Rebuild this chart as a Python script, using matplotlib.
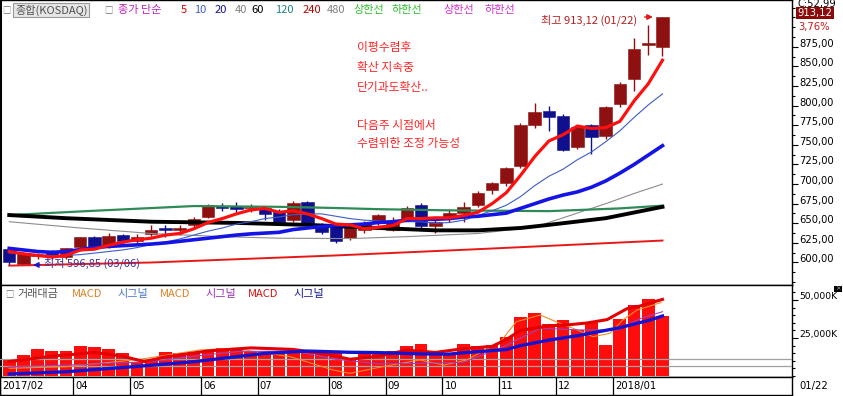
import numpy as np
import matplotlib
matplotlib.use("Agg")
import matplotlib.pyplot as plt
import matplotlib.transforms as mtransforms
from matplotlib import font_manager
from matplotlib.ticker import MultipleLocator

plt.rcParams['font.family'] = ['Noto Sans CJK KR', 'DejaVu Sans']

# narrow font for the numbers, if it is there
try:
    font_manager.findfont('Liberation Sans Narrow', fallback_to_default=False)
    NUM = dict(family=['Liberation Sans Narrow', 'DejaVu Sans'], fontsize=9.5)
except ValueError:
    NUM = dict(family=['DejaVu Sans'], fontsize=7.2)
NUM_S = dict(NUM, fontsize=NUM['fontsize'] - 0.5)

# KOSDAQ weekly candles 2017/02/27 ~ 2018/01/22
opens  = [617, 598, 608, 614, 607, 620, 632, 621, 635, 627, 636, 644, 641, 648, 658, 672, 672, 669, 670, 666,
          654, 677, 648, 645, 631, 641, 650, 642, 655, 673, 647, 657, 663, 673, 692, 702, 723, 775, 793, 787,
          747, 775, 761, 802, 834, 877, 875]
highs  = [619, 613, 612, 616, 619, 633, 634, 638, 636, 636, 648, 648, 648, 658, 674, 676, 677, 675, 672, 668,
          678, 679, 650, 647, 647, 653, 662, 658, 672, 676, 658, 668, 677, 691, 703, 722, 778, 803, 800, 789,
          776, 777, 800, 830, 886, 903, 913.12]
lows   = [597, 596.85, 605, 604, 605, 619, 618, 619, 624, 625, 634, 633, 635, 645, 657, 666, 664, 664, 654, 650,
          652, 649, 636, 625, 629, 638, 648, 640, 653, 644, 638, 652, 652, 671, 688, 698, 721, 772, 768, 742,
          745, 738, 758, 798, 819, 865, 863]
closes = [600, 611, 610, 607, 618, 632, 620, 634, 627, 633, 642, 641, 643.5, 656, 673, 669, 668, 671, 662, 652,
          676, 651, 639, 627, 645, 651, 661, 653, 670, 646, 652, 663, 671, 689, 701, 720, 775, 792, 786, 743,
          773, 760, 798, 828, 872, 880, 913.12]

# moving averages
ma5  = [614, 611, 609, 607, 609, 616, 617, 622, 626, 629, 631, 635, 637, 643, 651, 656, 662, 667, 669, 664,
        666, 662, 656, 649, 648, 643, 645, 647, 656, 656, 657, 657, 660, 664, 675, 689, 711, 735, 755, 763,
        774, 771, 772, 780, 806, 828, 858]
ma10 = [612, 611, 610, 609, 609, 610, 612, 614, 616, 619, 623, 626, 630, 635, 640, 644, 649, 652, 656, 658,
        661, 662, 662, 659, 656, 654, 653, 652, 652, 652, 650, 651, 654, 660, 666, 673, 684, 698, 710, 719,
        731, 741, 754, 768, 785, 801, 815]
ma20 = [618, 616, 614, 613, 614, 616.5, 619, 620.5, 621.5, 622.5, 623.5, 625, 627, 629, 631, 633, 635, 636.5,
        637.5, 638.5, 642, 644, 646, 647, 648, 649, 651, 652, 654, 655, 655, 656, 658, 659, 661, 663, 669, 675,
        681, 686, 690, 696, 704, 714, 725, 737, 749]
ma40_x = [0, 5, 10, 15, 19, 24, 28, 33, 37, 40, 42, 44, 46]
ma40_y = [652, 644, 637, 633, 631, 630.5, 633, 637, 645, 663, 675, 688, 700]
ma60_x = [0, 4, 10, 16, 21, 26, 30, 33, 36, 38, 42, 46]
ma60_y = [660.5, 656.5, 652, 650.5, 648, 644, 641, 641, 644, 648, 656.5, 671]
ma120_x = [0, 6, 13, 19, 23, 26, 31, 38, 43, 46]
ma120_y = [660.5, 666, 672, 671, 669.5, 668, 666.5, 665.5, 669, 672.5]
ma240_x = [0, 10, 23, 33, 46]
ma240_y = [596, 600, 609, 617, 628]

# 거래대금 (K) and its indicator lines
amount = [10900, 13800, 17700, 16400, 16400, 19700, 19000, 17700, 15100, 9000, 10900, 15800, 15100, 15800,
          16400, 18200, 17100, 15800, 16400, 14900, 17100, 17100, 14400, 14900, 10900, 14200, 14200, 16400,
          19800, 21000, 16400, 14400, 21000, 19700, 20400, 25400, 38600, 41600, 34200, 36800, 30200, 35100,
          20400, 37200, 46700, 50600, 39700]
sig_x = [0, 4, 5, 9, 13, 16, 18, 21, 24, 26, 29, 31, 32, 35, 36, 38, 40, 43, 45, 46]
sig_y = [1300, 2800, 3500, 6300, 9400, 12700, 14900, 16400, 15600, 15400, 14500, 14400, 15300, 17400, 20000,
         23600, 26500, 31800, 36500, 39500]
macd_x = [0, 3, 6, 8, 9.5, 11, 14, 17, 20, 22.5, 24, 26, 28, 30, 32, 34, 35, 36, 38, 39.5, 40.7, 42.1, 43.5,
          44.4, 46]
macd_y = [9500, 13000, 15500, 13000, 9500, 12500, 16500, 18500, 17500, 14000, 11000, 13000, 17000, 15500,
          18000, 19500, 24000, 30000, 33000, 33800, 34900, 37100, 44300, 46000, 50400]
macd2_x = [0, 4, 9.2, 13.4, 15.8, 19.8, 22.8, 24, 26.3, 28.9, 30.6, 32.2, 34.6, 35.7, 37.4, 38.5, 40, 41.1,
           42.3, 43.2, 44.2, 45.9]
macd2_y = [5060, 6140, 10960, 17100, 18200, 12700, 3950, 1750, 6140, 10530, 7240, 10500, 22570, 35700, 40130,
           35700, 30260, 25860, 28100, 36800, 43400, 48300]
sig2_x = [0, 5, 10, 13, 16, 20, 23, 26, 29, 32, 34.8, 37.4, 40.2, 42.8, 44.5, 46]
sig2_y = [6000, 7500, 9500, 13000, 16000, 16500, 11000, 8000, 8350, 9000, 19300, 31400, 30300, 30300, 38000,
          42300]
base_levels = [11000, 6600]

month_pos = [-0.65, 4.5, 8.5, 13.5, 17.5, 22.5, 26.5, 30.5, 34.5, 38.5, 42.5]
month_lab = ['2017/02', '04', '05', '06', '07', '08', '09', '10', '11', '12', '2018/01']

W, H = 843, 396
fig = plt.figure(figsize=(W / 100, H / 100), dpi=100)


def box(x0, y0, x1, y1):
    return fig.add_axes([x0 / W, 1 - y1 / H, (x1 - x0) / W, (y1 - y0) / H])


def ftext(x, y, s, **kw):
    fig.text(x / W, 1 - y / H, s, va='center', **kw)


ax = box(0, 0, 792, 285)
ax2 = box(0, 285, 792, 377)
ax3 = box(0, 377, 792, 395)

x = np.arange(len(closes))
o, h, l, c = map(np.array, (opens, highs, lows, closes))
col = np.where(c >= o, '#8e1010', '#10108e')
ax.vlines(x, l, h, colors=col, lw=1, zorder=2)
ax.bar(x, np.maximum(np.abs(c - o), 0.9), bottom=np.minimum(o, c), width=0.88,
       color=col, edgecolor=col, lw=0.4, zorder=2)

ax.plot(ma240_x, ma240_y, color='#e81818', lw=1.4, zorder=3)
ax.plot(ma40_x, ma40_y, color='#8c8c8c', lw=0.8, zorder=3)
ax.plot(ma120_x, ma120_y, color='#2e8b57', lw=1.6, zorder=3)
ax.plot(ma60_x, ma60_y, color='black', lw=2.8, zorder=3)
ax.plot(x, ma10, color='#3c5cc8', lw=0.8, zorder=3)
ax.plot(x, ma20, color='#1414e6', lw=2.6, zorder=3)
ax.plot(x, ma5, color='#ff1010', lw=2.3, zorder=3)

for a in (ax, ax2, ax3):
    a.set_xlim(-0.65, 55.12)
    a.set_xticks([])
ax.set_ylim(571.3, 934.8)
ax2.set_ylim(-658, 59868)
ax3.set_ylim(0, 1)

up4 = mtransforms.ScaledTranslation(0, 0.04, fig.dpi_scale_trans)

ax.yaxis.tick_right()
ax.set_yticks(np.arange(600, 876, 25))
ax.set_yticklabels([f'{v:.2f}'.replace('.', ',') for v in np.arange(600, 876, 25)], **NUM)
ax.yaxis.set_minor_locator(MultipleLocator(12.5))
ax.tick_params(axis='y', which='both', direction='out', length=4, width=0.8, pad=1.5)
ax.tick_params(axis='y', which='minor', length=2.5)
for lb in ax.get_yticklabels():
    lb.set_transform(lb.get_transform() + up4)

# 거래대금 panel
ax2.bar(x, amount, width=0.9, color='#ff0c0c', edgecolor='none', zorder=2)
for v in base_levels:
    ax2.axhline(v, color='#a0a0a0', lw=0.9, zorder=3)
ax2.plot(macd2_x, macd2_y, color='#f08c28', lw=0.8, zorder=4)
ax2.plot(sig2_x, sig2_y, color='#a040c0', lw=0.8, zorder=4)
ax2.plot(macd_x, macd_y, color='#e40000', lw=2.2, zorder=4)
ax2.plot(sig_x, sig_y, color='#1414d0', lw=2.4, zorder=5)
ax2.yaxis.tick_right()
ax2.set_yticks([25000, 50000])
ax2.set_yticklabels(['25,000K', '50,000K'], **NUM_S)
ax2.yaxis.set_minor_locator(MultipleLocator(5000))
ax2.tick_params(axis='y', which='both', direction='out', length=4, width=0.8, pad=1.5)
ax2.tick_params(axis='y', which='minor', length=2.5)
for lb in ax2.get_yticklabels():
    lb.set_transform(lb.get_transform() + up4)

# date strip
ax3.set_yticks([])
for p, s in zip(month_pos, month_lab):
    ax3.axvline(p, color='black', lw=0.9)
    ax3.annotate(s, xy=(p, 0.5), xytext=(1.5, 0), textcoords='offset points', va='center', **NUM)
ftext(799, 386, '01/22', **NUM)

for a in (ax, ax2, ax3):
    for sp in a.spines.values():
        sp.set_color('black')
        sp.set_linewidth(1)
ax.spines['left'].set_linewidth(2.2)
ax2.spines['left'].set_linewidth(2.2)

# high / low marks
ax.annotate('', xy=(x[-1] - 0.48, h[-1]), xytext=(-10, 0), textcoords='offset points',
            arrowprops=dict(arrowstyle='-|>', color='#e01818', lw=1, mutation_scale=8))
ax.annotate('최고 913,12 (01/22)', xy=(x[-1] - 0.48, h[-1]), xytext=(-13, -2.5),
            textcoords='offset points', ha='right', va='center', fontsize=8, color='#b41e1e')
ax.annotate('', xy=(x[1] + 0.48, l[1]), xytext=(9, 0), textcoords='offset points',
            arrowprops=dict(arrowstyle='-|>', color='#1a1ad0', lw=1, mutation_scale=8))
ax.annotate('최저 596,85 (03/06)', xy=(x[1] + 0.48, l[1]), xytext=(10, 1.5),
            textcoords='offset points', ha='left', va='center', fontsize=8, color='#3c30a0')

# comment text
notes = [('이평수렴후', 48), ('확산 지속중', 68), ('단기과도확산..', 87),
         ('다음주 시점에서', 125), ('수렴위한 조정 가능성', 144)]
for s, yy in notes:
    ax.text(357 / 792, 1 - yy / 285, s, transform=ax.transAxes, va='center',
            fontsize=8.5, color='#ff2424')

# current price box on the right
ax.text(1.007, c[-1], '913,12', transform=mtransforms.blended_transform_factory(ax.transAxes, ax.transData)
        + up4, va='center', ha='left', color='white', clip_on=False,
        bbox=dict(boxstyle='square,pad=0.12', fc='#8b0a0a', ec='none'), **NUM)
ftext(798, 4, 'C:52,99', color='black', **NUM)
ftext(798, 27, '3,76%', color='#d01818', **NUM)

# legends
legend_top = [('종가 단순', 118, '#c020c0'), ('5', 181, '#e00000'), ('10', 194, '#3c5cc8'),
              ('20', 215, '#10108e'), ('40', 235, '#808080'), ('60', 251, 'black'),
              ('120', 275, '#208080'), ('240', 303, '#c00000'), ('480', 327, '#808080'),
              ('상한선', 353, '#30c030'), ('하한선', 391, '#30c030'), ('상한선', 443, '#d030d0'),
              ('하한선', 484, '#d030d0')]
ftext(2, 10, '□', fontsize=6, color='#707070')
ftext(15, 10, '종합(KOSDAQ)', fontsize=8, color='#505050',
      bbox=dict(boxstyle='square,pad=0.15', fc='#e6e6e6', ec='#9a9a9a', lw=0.8))
ftext(104, 10, '□', fontsize=6, color='#707070')
for s, xx, cc in legend_top:
    ftext(xx, 10, s, fontsize=8, color=cc)

legend_low = [('거래대금', 17, '#555555'), ('MACD', 72, '#e08020'), ('시그널', 117, '#4a78c8'),
              ('MACD', 160, '#e08020'), ('시그널', 205, '#9a30b0'), ('MACD', 248, '#d81010'),
              ('시그널', 293, '#1a1a90')]
ftext(5, 294, '□', fontsize=6, color='#707070')
for s, xx, cc in legend_low:
    ftext(xx, 294, s, fontsize=8, color=cc)
ftext(838, 289, '×', fontsize=4, color='white', ha='center',
      bbox=dict(boxstyle='square,pad=0.15', fc='black', ec='none'))

fig.savefig('out.png', dpi=100)
